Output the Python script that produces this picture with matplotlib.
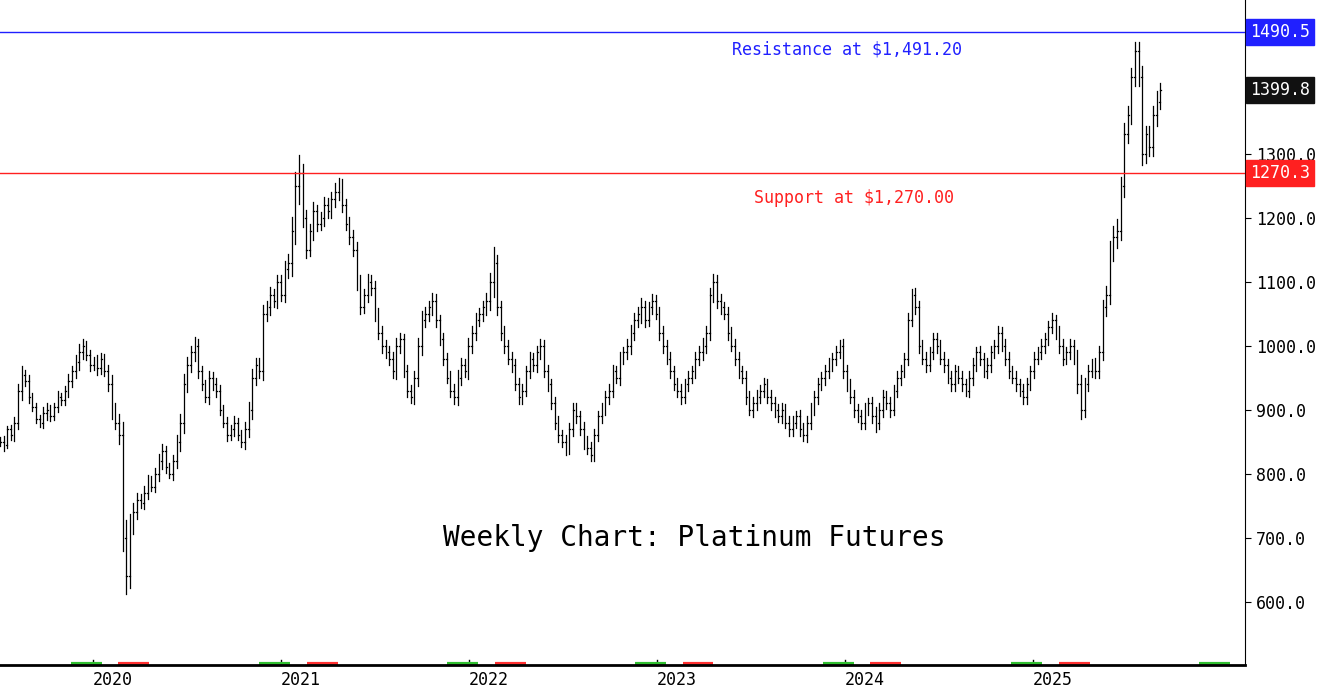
import matplotlib
matplotlib.use("Agg")
import matplotlib.pyplot as plt
import matplotlib.dates as mdates
import numpy as np

start_date = "2019-07-05"
closes = [
850,845,870,860,880,930,955,945,920,905,
885,880,895,900,890,905,920,915,930,945,
960,975,990,1000,985,970,975,965,980,960,
940,900,880,860,700,640,720,740,760,755,
770,790,780,800,820,835,810,800,820,850,
880,940,970,990,1000,960,940,920,950,940,
930,900,880,860,870,880,860,850,870,900,
950,970,960,1050,1060,1080,1070,1100,1080,1120,
1130,1180,1250,1270,1200,1150,1180,1210,1190,1200,
1220,1210,1230,1240,1250,1220,1190,1170,1150,1100,
1060,1080,1100,1090,1050,1020,1000,990,980,960,
1000,1010,960,930,920,950,1000,1040,1050,1060,
1070,1040,1010,980,950,930,920,950,970,960,
1000,1020,1040,1050,1060,1070,1100,1130,1060,1020,
1000,980,970,940,920,930,960,980,970,990,
1000,960,940,910,880,860,850,840,870,900,
890,870,850,840,830,860,890,900,920,930,
960,950,980,990,1000,1020,1040,1050,1060,1040,
1060,1070,1050,1020,1000,980,960,940,930,920,
940,950,960,980,990,1000,1020,1080,1100,1070,
1060,1050,1020,1000,980,960,950,920,900,910,
920,930,940,920,910,900,890,900,880,870,
880,890,870,860,880,900,920,940,950,960,
970,980,990,1000,960,940,920,900,890,880,
900,910,890,880,900,920,910,900,930,950,
960,980,1040,1080,1060,1000,980,970,990,1010,
1000,980,970,950,940,960,950,940,930,950,
970,990,980,960,970,990,1000,1020,1000,980,
960,950,940,930,920,940,960,980,990,1000,
1010,1030,1040,1020,1000,980,990,1000,980,940,
900,940,960,970,960,990,1060,1080,1150,1170,
1180,1250,1330,1360,1420,1460,1420,1300,1330,1310,
1360,1380,1400]
wicks = [int(v) for v in """
20 25 15 20 25 30 40 20 25 20 15 20 25 30 20 15 25 20 20 30
25 30 35 30 20 25 20 30 25 20 30 40 30 40 60 80 50 40 30 25
30 25 20 25 30 35 25 20 25 30 40 45 35 30 40 30 25 20 30 25
30 25 20 25 20 30 20 25 30 35 40 30 30 40 30 35 25 30 30 35
40 60 60 80 40 35 30 40 30 25 35 30 30 40 35 30 25 30 30 35
30 25 35 30 30 25 30 25 30 30 35 30 25 30 25 30 35 40 30 30
35 30 25 30 25 30 30 35 30 25 35 30 30 25 30 35 40 70 35 30
30 25 30 25 30 30 25 30 25 30 30 25 30 25 30 30 25 30 25 30
30 25 30 25 30 30 25 30 25 30 30 25 30 25 30 35 30 30 40 30
25 30 25 30 30 25 30 25 30 30 25 30 25 30 30 35 30 30 35 30
30 25 30 25 30 30 25 30 25 30 30 25 30 25 30 30 25 30 25 30
30 25 30 25 30 30 25 30 25 30 30 25 30 25 30 30 25 30 25 30
30 25 30 40 30 30 25 30 25 30 30 25 30 25 30 30 25 30 25 30
30 25 30 25 30 30 25 30 25 30 30 25 30 25 30 30 25 30 25 30
30 25 30 25 30 30 25 30 25 30 30 25 30 25 30 30 25 30 25 40
40 30 30 25 30 30 35 40 40 50 50 40 50 40 40 40 40 50 40 40
40 50 30""".split()]

yticks = [600, 700, 800, 900, 1000, 1100, 1200, 1300, 1500]
resistance = 1490.5
support = 1270.3
last_close = 1399.8

fig = plt.figure(figsize=(13.4, 6.92), dpi=100)
ax = fig.add_axes([0, 1 - 665/692, 1245/1340, 665/692])
t0 = np.datetime64(start_date)
dates = [t0 + np.timedelta64(7 * i, 'D') for i in range(len(closes))]
xd = mdates.date2num(np.array(dates, dtype='datetime64[D]'))
n = len(closes)
for i in range(n):
    o = closes[i - 1] if i > 0 else closes[0]
    c = closes[i]
    hi = max(o, c) + wicks[i] * 0.35
    lo = min(o, c) - wicks[i] * 0.35
    x = xd[i]
    ax.plot([x, x], [lo, hi], color='black', lw=0.9)
    ax.plot([x - 1.5, x], [o, o], color='black', lw=0.9)
    ax.plot([x, x + 1.5], [c, c], color='black', lw=0.9)

x0 = mdates.date2num(np.datetime64('2019-07-05'))
x1 = x0 + 1245 / 188 * 365.25
ax.set_xlim(x0, x1)
ax.set_ylim(501.6, 1540)
ax.axhline(resistance, color='#2020ff', lw=1)
ax.axhline(support, color='#ff2020', lw=1)
mono = 'DejaVu Sans Mono'
ax.text(mdates.date2num(np.datetime64('2024-01-05')), 1462, 'Resistance at $1,491.20', color='#2020ff',
        ha='center', va='center', fontsize=12, family=mono)
ax.text(mdates.date2num(np.datetime64('2024-01-20')), 1231, 'Support at $1,270.00', color='#ff2020',
        ha='center', va='center', fontsize=12, family=mono)
ax.text(mdates.date2num(np.datetime64('2023-03-15')), 700, 'Weekly Chart: Platinum Futures', color='black',
        ha='center', va='center', fontsize=20, family=mono)

ax.yaxis.tick_right()
ax.set_yticks(yticks)
ax.set_yticklabels([f'{v:.1f}' for v in yticks], fontsize=12, family=mono)
ax.tick_params(axis='y', length=4, pad=4)
for val, col in [(resistance, '#2020ff'), (last_close, '#111111'), (support, '#ff2020')]:
    ax.text(1.004, val, f'{val:.1f}', transform=ax.get_yaxis_transform(), color='white',
            fontsize=12, family=mono, va='center', ha='left', zorder=10,
            bbox=dict(boxstyle='square,pad=0.25', fc=col, ec=col))

years = [2020, 2021, 2022, 2023, 2024, 2025]
ax.set_xticks([mdates.date2num(np.datetime64(f'{y}-01-01')) for y in years])
ax.set_xticklabels([str(y) for y in years], fontsize=12, family=mono, ha='left')
ax.tick_params(axis='x', length=0, pad=4)
for xt in ax.get_xticks():
    ax.plot([xt, xt], [501.6, 510], color='black', lw=1, clip_on=False)
for s in ['top', 'left']:
    ax.spines[s].set_visible(False)
ax.spines['bottom'].set_linewidth(2)
for y in range(2019, 2026):
    for m, col in [(1, '#ff3030'), (10, '#30c030')]:
        a = mdates.date2num(np.datetime64(f'{y}-{m:02d}-01'))
        if a < x0 or a > x1:
            continue
        ax.plot([a + 50, a + 110], [503, 503], color=col, lw=3, solid_capstyle='butt')
fig.savefig('out.png', dpi=100)
